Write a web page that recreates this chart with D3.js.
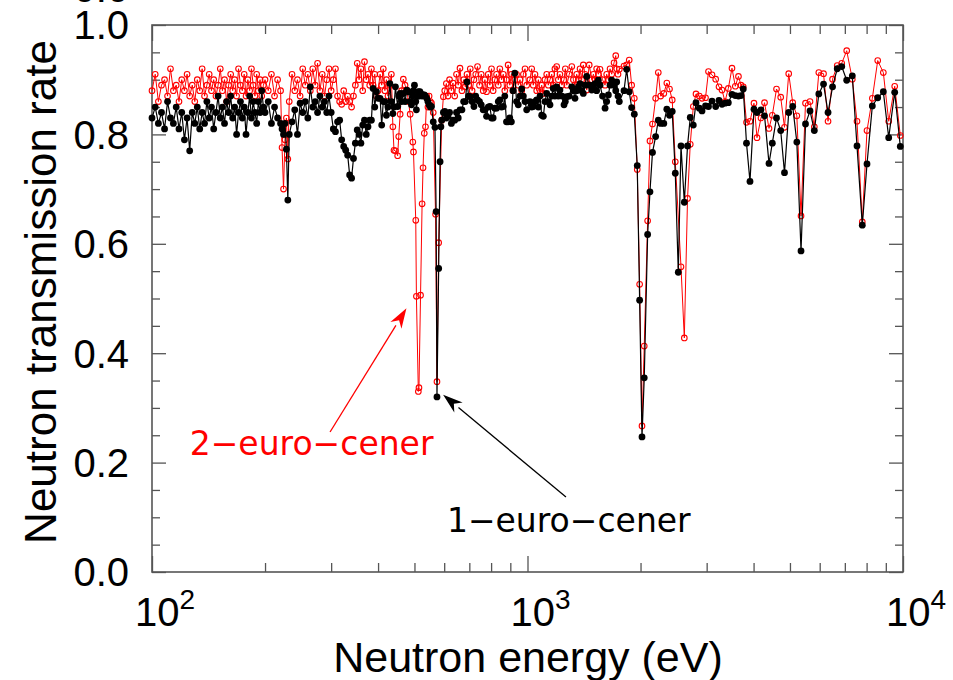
<!DOCTYPE html>
<html>
<head>
<meta charset="utf-8">
<script src="https://cdn.jsdelivr.net/npm/d3@7"></script>
<style>
body { margin: 0; background: #fff; }
text { font-family: "Liberation Sans", Arial, sans-serif; }
</style>
</head>
<body>
<svg width="953" height="680"></svg>
<script>
// neutron energies (eV), shared by both coins
var energies = [
    // 100 - 198
    100,102,104,106,108,110,112,114,116,118,
    120,122,124,126,128,130,132,134,136,138,
    140,142,144,146,148,150,152,154,156,158,
    160,162,164,166,168,170,172,174,176,178,
    180,182,184,186,188,190,192,194,196,198,
    // 200 - 396
    200,204,208,212,216,220,222,224,226,228,
    230,232,236,240,244,248,252,256,260,264,
    268,272,276,280,284,288,292,296,300,304,
    308,312,316,320,324,328,332,336,340,344,
    348,352,356,360,364,368,372,376,380,384,
    388,392,396,
    // 400 - 995
    400,405,409,413,417,421,425,430,434,438,
    441,445,451,454,458,462,467,472,477,482,
    487,491,495,497,500,504,506,510,512,514,
    517,519,524,527,531,535,539,543,547,551,
    555,561,567,569,571,574,580,585,588,591,
    597,602,608,614,620,627,633,640,647,654,
    661,669,676,683,690,697,704,712,720,728,
    736,745,753,762,770,778,786,794,802,810,
    818,827,836,844,853,862,870,879,888,897,
    906,915,925,935,945,955,965,975,985,995,
    // 1015 - 1756
    1015,1026,1036,1047,1058,1069,1080,1091,1102,1113,
    1125,1136,1148,1160,1171,1183,1196,1208,1220,1235,
    1251,1261,1272,1292,1312,1325,1338,1352,1366,1380,
    1394,1408,1423,1438,1460,1483,1498,1513,1528,1544,
    1560,1584,1609,1625,1642,1659,1676,1700,1718,1728,
    1742,1756,
    // 1807 - 9835
    1807,1837,1866,1894,1925,1960,1989,2018,2046,2089,
    2119,2152,2194,2230,2263,2307,2350,2389,2429,2475,
    2521,2563,2616,2668,2713,2764,2810,2868,2916,2979,
    3034,3100,3171,3236,3296,3357,3426,3504,3576,3646,
    3703,3755,3830,3913,4010,4085,4186,4278,4397,4487,
    4604,4724,4835,4962,5085,5215,5351,5500,5654,5806,
    5968,6143,6315,6492,6681,6868,7081,7328,7542,7791,
    8019,8286,8564,8864,9161,9504,9835
];

// 1-euro coin transmission (null = no point in that bin)
var oneEuro = [
    .83,.85,.82,.84,.81,.86,.83,.82,.85,.81,
    .84,.79,.83,.77,.84,.82,.85,.81,.84,.82,
    .86,.83,.85,.81,.84,.87,.83,.85,.82,.86,
    .84,.87,.83,.85,.80,.84,.86,.83,.85,.80,
    .84,.87,.83,.86,.84,.82,.86,.84,.88,.85,

    .84,.86,.82,.85,.83,.82,.81,.80,.82,.773,
    .68,.80,.823,.845,.80,.857,.84,.86,.83,.887,
    .85,.86,.84,.87,.85,.86,.84,.87,.84,.81,
    .805,.823,.826,.79,.778,.771,.762,.726,.72,.756,
    .784,.808,.80,.784,.817,.826,.80,.814,.826,.826,
    .884,.85,.878,

    .866,.866,.817,.86,.86,.835,.85,.893,.86,.838,
    .85,.887,.851,.87,.875,.86,.875,.86,.881,.878,
    .86,.854,.87,.88,.89,.86,.845,.87,.878,.87,
    .878,.875,.87,.872,.872,.87,.866,.86,.854,.85,
    .851,.823,.813,null,.659,.32,.555,.75,.814,.826,
    .84,.842,.83,.833,.84,.82,.826,.826,.84,.83,
    .845,.845,.86,.86,.896,.87,.869,.86,.851,.87,
    .863,.86,.854,.845,.845,.833,.85,.851,.83,.83,
    .848,.848,.86,.863,.85,.851,.87,.823,.823,.83,
    .823,.88,.912,.86,.854,.87,.883,.87,.86,.845,

    .86,.85,.851,.86,.863,.85,.87,.835,.833,.86,
    .875,.86,.854,.87,.884,.87,.887,.87,.881,.87,
    .854,.86,.869,.87,.887,.88,.866,.88,.887,.893,
    .88,.875,.89,.906,.89,.881,.89,.893,.88,.899,
    .89,.87,.848,.86,.872,.89,.899,.89,.88,.896,
    .87,.86,

    .88,.919,.878,.849,.837,.743,.497,.247,.355,.617,
    .695,.767,.796,.826,.82,.82,.846,.835,.842,.729,
    .548,.779,.676,.779,.831,.817,.858,.848,.843,.852,
    .851,.861,.851,.862,.855,.857,.858,.873,.871,.87,
    .871,.883,.784,.714,.846,.84,.845,.834,.747,.784,
    .83,.807,.73,.84,.851,.786,.587,.819,.843,.807,
    .874,.892,.84,.887,.92,.924,.899,.907,.779,.634,
    .746,.852,.867,.878,.794,.877,.778
];

// 2-euro coin transmission
var twoEuro = [
    .88,.91,.86,.89,.90,.87,.92,.88,.89,.86,
    .90,.88,.91,.87,.89,.86,.90,.88,.92,.87,
    .89,.91,.88,.90,.87,.89,.92,.88,.90,.86,
    .89,.91,.88,.90,.87,.92,.89,.88,.91,.87,
    .90,.88,.92,.89,.87,.91,.88,.90,.87,.89,

    .90,.88,.91,.87,.90,.88,.776,.70,.79,.83,
    .755,.86,.91,.88,.90,.87,.92,.89,.91,.88,
    .92,.89,.93,.88,.91,.87,.90,.92,.88,.90,
    .92,.87,.86,.855,.88,.86,.87,.86,.85,.87,
    .89,.93,.90,.92,.88,.933,.90,.91,.89,.92,
    .89,.91,.87,

    .88,.91,.89,.92,.88,.90,.87,.89,.91,.814,
    .771,.77,.761,.796,.837,.88,.901,.89,.881,.86,
    .837,null,.786,.768,null,.643,.504,null,.33,.337,
    null,.506,.673,.739,.802,.814,.87,.85,.87,.86,
    .857,.84,null,.654,null,.348,.602,null,null,.826,
    .869,.88,.893,.87,.90,.88,.894,.87,.91,.89,
    .921,.88,.90,.887,.91,.89,.92,.88,.90,.91,
    .924,.89,.91,.88,.90,.878,.91,.89,.92,.88,
    .90,.91,.89,.92,.90,.91,.88,.90,.927,.89,
    .91,.88,.90,.91,.89,.90,.88,.91,.92,.89,

    .90,.92,.89,.91,.88,.90,.877,.89,.875,.90,
    .91,.89,.90,.91,.89,.92,.924,.90,.91,.89,
    .90,.92,.89,.91,.924,.90,.89,.91,.90,.92,
    .90,.927,.91,.881,.927,.90,.91,.90,.92,.91,
    .919,.90,.89,.91,.90,.92,.91,.931,.944,.92,
    .91,.919,

    .925,.927,.936,.89,.866,.736,.526,.267,.413,.642,
    .788,.819,.866,.913,.87,.875,.894,.883,.863,.75,
    null,.558,.428,.683,.782,.851,.874,.87,.866,.867,
    .915,.909,.901,.887,.881,.86,.884,.921,.888,.906,
    .89,.887,.822,.824,.857,.794,.83,.858,.811,.835,
    .883,.868,.813,.911,.858,.834,.651,.857,.86,.814,
    .913,.911,.824,.901,.926,.93,.953,.901,.824,.64,
    .807,.866,.935,.913,.824,.888,.798
];

var yTicks = [0, 0.2, 0.4, 0.6, 0.8, 1.0];
var xDecades = [100, 1000, 10000];
var xExponents = ['2', '3', '4'];

if (energies.length !== oneEuro.length || energies.length !== twoEuro.length) {
    throw new Error('length mismatch ' + energies.length + ' ' + oneEuro.length + ' ' + twoEuro.length);
}

var svg = d3.select('svg');
var frame = {l: 152, r: 903, t: 25, b: 572};
var axisColor = '#555';

var x = d3.scaleLog().domain([100, 10000]).range([frame.l, frame.r]);
var y = d3.scaleLinear().domain([0, 1]).range([frame.b, frame.t]);

function toPoints(values) {
    return energies.map(function(e, i) { return {e: e, v: values[i]}; })
        .filter(function(d) { return d.v !== null; });
}
var black = toPoints(oneEuro);
var red = toPoints(twoEuro);

// minor / major ticks, all pointing inward
var minorX = [];
[100, 1000].forEach(function(dec) {
    for (var k = 2; k <= 9; k++) minorX.push(dec * k);
});
var minorY = d3.range(0, 1.0001, 0.05).filter(function(v) {
    return Math.abs(v * 5 - Math.round(v * 5)) > 1e-6;
});

function styleAxis(g) {
    g.select('.domain').remove();
    g.selectAll('line').attr('stroke', axisColor).attr('stroke-width', 1.3);
}

svg.append('g').attr('transform', 'translate(0,' + frame.b + ')')
    .call(d3.axisBottom(x).tickValues(minorX).tickSize(-9).tickFormat(''))
    .call(styleAxis);
svg.append('g').attr('transform', 'translate(0,' + frame.b + ')')
    .call(d3.axisBottom(x).tickValues(xDecades).tickSize(-16).tickFormat(''))
    .call(styleAxis);
svg.append('g').attr('transform', 'translate(0,' + frame.t + ')')
    .call(d3.axisTop(x).tickValues(minorX).tickSize(-9).tickFormat(''))
    .call(styleAxis);
svg.append('g').attr('transform', 'translate(0,' + frame.t + ')')
    .call(d3.axisTop(x).tickValues(xDecades).tickSize(-16).tickFormat(''))
    .call(styleAxis);
svg.append('g').attr('transform', 'translate(' + frame.l + ',0)')
    .call(d3.axisLeft(y).tickValues(minorY).tickSize(-8).tickFormat(''))
    .call(styleAxis);
svg.append('g').attr('transform', 'translate(' + frame.l + ',0)')
    .call(d3.axisLeft(y).tickValues(yTicks).tickSize(-14).tickFormat(''))
    .call(styleAxis);
svg.append('g').attr('transform', 'translate(' + frame.r + ',0)')
    .call(d3.axisRight(y).tickValues(minorY).tickSize(-8).tickFormat(''))
    .call(styleAxis);
svg.append('g').attr('transform', 'translate(' + frame.r + ',0)')
    .call(d3.axisRight(y).tickValues(yTicks).tickSize(-14).tickFormat(''))
    .call(styleAxis);

svg.append('rect')
    .attr('x', frame.l).attr('y', frame.t)
    .attr('width', frame.r - frame.l).attr('height', frame.b - frame.t)
    .attr('fill', 'none').attr('stroke', axisColor).attr('stroke-width', 1.6);

// tick labels
svg.selectAll('.ylab').data(yTicks).enter().append('text')
    .attr('class', 'ylab')
    .attr('x', 129).attr('y', function(d) { return y(d); })
    .attr('dy', '0.36em')
    .attr('text-anchor', 'end')
    .style('font-size', '40px')
    .text(function(d) { return d.toFixed(1); });

// stray label cut by the top edge, as in the source picture
svg.append('text').attr('x', 129).attr('y', 2)
    .attr('text-anchor', 'end').style('font-size', '40px').text('0.0');

var xlab = svg.selectAll('.xlab').data(xDecades).enter().append('text')
    .attr('class', 'xlab')
    .attr('x', function(d) { return x(d) + 13; })
    .attr('y', 626)
    .attr('text-anchor', 'middle')
    .style('font-size', '40px');
xlab.append('tspan').text('10');
xlab.append('tspan').attr('dy', -17).style('font-size', '28px')
    .text(function(d, i) { return xExponents[i]; });

svg.append('text')
    .attr('x', 528).attr('y', 672)
    .attr('text-anchor', 'middle')
    .style('font-size', '43px')
    .text('Neutron energy (eV)');

svg.append('text')
    .attr('transform', 'translate(56,292) rotate(-90)')
    .attr('text-anchor', 'middle')
    .style('font-size', '44px')
    .text('Neutron transmission rate');

// series
var line = d3.line()
    .x(function(d) { return x(d.e); })
    .y(function(d) { return y(d.v); });

svg.append('path').datum(red)
    .attr('d', line).attr('fill', 'none')
    .attr('stroke', '#ff0000').attr('stroke-width', 1);
svg.selectAll('.rdot').data(red).enter().append('circle')
    .attr('class', 'rdot')
    .attr('cx', function(d) { return x(d.e); })
    .attr('cy', function(d) { return y(d.v); })
    .attr('r', 2.8)
    .attr('fill', 'none').attr('stroke', '#ff0000').attr('stroke-width', 1.1);

svg.append('path').datum(black)
    .attr('d', line).attr('fill', 'none')
    .attr('stroke', '#000').attr('stroke-width', 1.2);
svg.selectAll('.bdot').data(black).enter().append('circle')
    .attr('class', 'bdot')
    .attr('cx', function(d) { return x(d.e); })
    .attr('cy', function(d) { return y(d.v); })
    .attr('r', 3.4)
    .attr('fill', '#000');

// annotations with arrows
var notes = [
    {text: '2\u2212euro\u2212cener', color: '#ff0000', tx: 126, ty: 0.214, from: [298, 0.256], to: [476, 0.482]},
    {text: '1\u2212euro\u2212cener', color: '#000', tx: 610, ty: 0.073, from: [1266, 0.137], to: [596, 0.324]}
];
notes.forEach(function(n) {
    var x1 = x(n.from[0]), y1 = y(n.from[1]), x2 = x(n.to[0]), y2 = y(n.to[1]);
    var ang = Math.atan2(y2 - y1, x2 - x1);
    var len = 20, half = 6.5;
    var bx = x2 - len * Math.cos(ang), by = y2 - len * Math.sin(ang);
    svg.append('line')
        .attr('x1', x1).attr('y1', y1).attr('x2', bx).attr('y2', by)
        .attr('stroke', n.color).attr('stroke-width', 1.3);
    svg.append('path')
        .attr('d', 'M' + x2 + ',' + y2 +
            'L' + (bx + half * Math.sin(ang)) + ',' + (by - half * Math.cos(ang)) +
            'L' + (x2 - 0.7 * len * Math.cos(ang)) + ',' + (y2 - 0.7 * len * Math.sin(ang)) +
            'L' + (bx - half * Math.sin(ang)) + ',' + (by + half * Math.cos(ang)) + 'Z')
        .attr('fill', n.color);
    svg.append('text')
        .attr('x', x(n.tx)).attr('y', y(n.ty))
        .style('font-family', '"DejaVu Sans", sans-serif')
        .style('font-size', '33px')
        .attr('fill', n.color)
        .text(n.text);
});
</script>
</body>
</html>
